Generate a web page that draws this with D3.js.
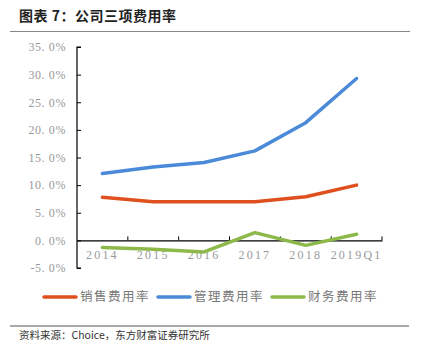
<!DOCTYPE html>
<html>
<head>
<meta charset="utf-8">
<script src="https://cdn.jsdelivr.net/npm/d3@7"></script>
<style>
  body { margin: 0; background: #fff; }
  svg { display: block; }
</style>
</head>
<body>
<script>
var width = 427
var height = 358

var categories = ["2014", "2015", "2016", "2017", "2018", "2019Q1"]
var seriesNames = ["销售费用率", "管理费用率", "财务费用率"]
var sales = [7.8, 7.0, 7.0, 7.0, 7.9, 10.0]
var admin = [12.1, 13.3, 14.1, 16.2, 21.3, 29.3]
var finance = [-1.3, -1.6, -2.1, 1.4, -0.9, 1.1]
var yTicks = [-5, 0, 5, 10, 15, 20, 25, 30, 35]
var colors = ["#e0501e", "#4a8ad8", "#8db94a"]

var svg = d3.select("body").append("svg")
  .attr("width", width)
  .attr("height", height)

var cjk = "'Noto Sans CJK SC', sans-serif"
var serif = "'Liberation Serif', 'DejaVu Serif', serif"

// title
svg.append("text")
  .attr("x", 19).attr("y", 21)
  .attr("font-family", cjk)
  .attr("font-weight", "bold")
  .attr("font-size", 14)
  .attr("letter-spacing", 0.5)
  .attr("fill", "#222")
  .text("图表 7：公司三项费用率")

svg.append("line")
  .attr("x1", 10).attr("x2", 410)
  .attr("y1", 31.5).attr("y2", 31.5)
  .attr("stroke", "#888").attr("stroke-width", 1)

var x = d3.scaleBand().domain(categories).range([77, 382])
var y = d3.scaleLinear().domain([-5, 35]).range([268, 47])

// y axis
var yAxis = svg.append("g")
  .attr("transform", "translate(77,0)")
  .call(d3.axisLeft(y).tickValues(yTicks).tickSize(4)
    .tickFormat(function (d) { return d.toFixed(1).replace(".", ". ") + "%" }))
yAxis.select(".domain").attr("stroke", "#000").attr("stroke-width", 1.2)
  .attr("d", "M4,47H0V268H4")
yAxis.selectAll(".tick line").attr("stroke", "#000").attr("x2", 4).attr("x1", 0)
yAxis.selectAll(".tick text")
  .attr("x", -11)
  .attr("font-family", serif)
  .attr("font-size", 12)
  .attr("letter-spacing", 0.6)
  .attr("fill", "#999")

// x axis at zero
var xAxis = svg.append("g")
  .attr("transform", "translate(0," + y(0) + ")")
  .call(d3.axisBottom(x).tickSize(0).tickPadding(10))
xAxis.select(".domain").attr("stroke", "#000").attr("stroke-width", 1.2)
xAxis.selectAll(".tick text")
  .attr("font-family", serif)
  .attr("font-size", 12)
  .attr("letter-spacing", 2.2)
  .attr("fill", "#999")
var bounds = categories.map(function (c) { return x(c) }).concat([x.range()[1]])
xAxis.selectAll(".bt").data(bounds.slice(1)).enter().append("line")
  .attr("x1", function (d) { return d }).attr("x2", function (d) { return d })
  .attr("y1", -4).attr("y2", 0)
  .attr("stroke", "#000").attr("stroke-width", 1)

// lines
var line = d3.line()
  .x(function (d, i) { return x(categories[i]) + x.bandwidth() / 2 })
  .y(function (d) { return y(d) })

var allSeries = [sales, admin, finance]
svg.selectAll(".series").data(allSeries).enter().append("path")
  .attr("class", "series")
  .attr("d", line)
  .attr("fill", "none")
  .attr("stroke", function (d, i) { return colors[i] })
  .attr("stroke-width", 3.5)
  .attr("stroke-linejoin", "round")
  .attr("stroke-linecap", "round")

// legend
var legendX = [44, 158, 272]
var legend = svg.selectAll(".legend").data(seriesNames).enter().append("g")
  .attr("transform", function (d, i) { return "translate(" + legendX[i] + ",297)" })
legend.append("line")
  .attr("x1", 0).attr("x2", 32)
  .attr("stroke", function (d, i) { return colors[i] })
  .attr("stroke-width", 3.5)
  .attr("stroke-linecap", "round")
legend.append("text")
  .attr("x", 36).attr("dy", "0.35em")
  .attr("font-family", cjk)
  .attr("font-size", 12.5)
  .attr("letter-spacing", 1.5)
  .attr("fill", "#777")
  .text(function (d) { return d })

svg.append("line")
  .attr("x1", 10).attr("x2", 409)
  .attr("y1", 326).attr("y2", 326)
  .attr("stroke", "#555").attr("stroke-width", 1.2)

svg.append("text")
  .attr("x", 19).attr("y", 339)
  .attr("font-family", cjk)
  .attr("font-size", 10.5)
  .attr("fill", "#333")
  .text("资料来源：Choice，东方财富证券研究所")
</script>
</body>
</html>
